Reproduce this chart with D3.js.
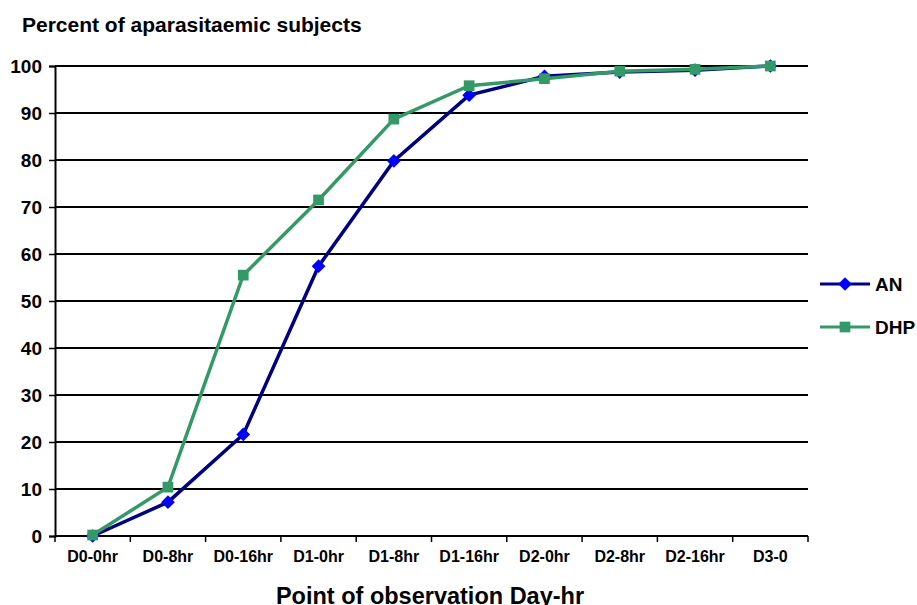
<!DOCTYPE html>
<html>
<head>
<meta charset="utf-8">
<script src="https://cdn.jsdelivr.net/npm/d3@7"></script>
<style>
  body { margin: 0; background: #fff; }
  svg { font-family: "Liberation Sans", Arial, sans-serif; font-weight: bold; }
</style>
</head>
<body>
<div id="chart"></div>
<script>
'use strict';

var categories = ['D0-0hr', 'D0-8hr', 'D0-16hr', 'D1-0hr', 'D1-8hr', 'D1-16hr', 'D2-0hr', 'D2-8hr', 'D2-16hr', 'D3-0'];
var anValues = [0, 7.2, 21.6, 57.4, 79.8, 93.8, 97.8, 98.7, 99.1, 100];
var dhpValues = [0.2, 10.4, 55.5, 71.5, 88.7, 95.8, 97.3, 98.9, 99.3, 100];
var yTicks = [0, 10, 20, 30, 40, 50, 60, 70, 80, 90, 100];

var series = [
  {key: 'AN', values: anValues, line: '#000080', marker: '#0000ff', shape: 'diamond'},
  {key: 'DHP', values: dhpValues, line: '#339966', marker: '#339966', shape: 'square'}
];

var width = 917, height = 605;
var margin = {top: 66, right: 109, bottom: 69, left: 55};
var w = width - margin.left - margin.right;
var h = height - margin.top - margin.bottom;

var svg = d3.select('#chart').append('svg')
  .attr('width', width)
  .attr('height', height);

var g = svg.append('g')
  .attr('transform', 'translate(' + margin.left + ',' + margin.top + ')');

var x = d3.scaleBand().domain(categories).range([0, w]);
var y = d3.scaleLinear().domain([0, 100]).range([h, 0]);

// gridlines
g.append('g')
  .selectAll('line')
  .data(yTicks)
  .enter().append('line')
  .attr('x1', 0).attr('x2', w)
  .attr('y1', function(d) { return y(d); })
  .attr('y2', function(d) { return y(d); })
  .attr('stroke', '#000')
  .attr('stroke-width', 2);

// y axis
var yAxis = g.append('g')
  .call(d3.axisLeft(y).tickValues(yTicks).tickSize(6).tickPadding(7));
yAxis.select('.domain').attr('stroke', '#000').attr('stroke-width', 2);
yAxis.selectAll('.tick line').attr('stroke', '#000').attr('stroke-width', 1.5);
yAxis.selectAll('.tick text')
  .attr('font-size', 19)
  .attr('font-weight', 'bold')
  .attr('font-family', '"Liberation Sans", Arial, sans-serif')
  .attr('fill', '#000');

// x axis with ticks at band edges
var xAxis = g.append('g')
  .attr('transform', 'translate(0,' + h + ')');
xAxis.append('line')
  .attr('x1', 0).attr('x2', w)
  .attr('stroke', '#000').attr('stroke-width', 2);
var edges = d3.range(categories.length + 1).map(function(i) { return i * x.step(); });
xAxis.selectAll('line.edge')
  .data(edges)
  .enter().append('line')
  .attr('class', 'edge')
  .attr('x1', function(d) { return d; })
  .attr('x2', function(d) { return d; })
  .attr('y1', 0).attr('y2', 6)
  .attr('stroke', '#000').attr('stroke-width', 1.5);
xAxis.selectAll('text')
  .data(categories)
  .enter().append('text')
  .attr('x', function(d) { return x(d) + x.bandwidth() / 2; })
  .attr('y', 26)
  .attr('text-anchor', 'middle')
  .attr('font-size', 16)
  .text(function(d) { return d; });

// lines
var line = d3.line()
  .x(function(d, i) { return x(categories[i]) + x.bandwidth() / 2; })
  .y(function(d) { return y(d); });

var diamond = d3.symbol().type(d3.symbolDiamond2).size(120);
var square = d3.symbol().type(d3.symbolSquare).size(115);

series.forEach(function(s) {
  var sg = g.append('g');
  sg.append('path')
    .datum(s.values)
    .attr('fill', 'none')
    .attr('stroke', s.line)
    .attr('stroke-width', 3.5)
    .attr('d', line);
  sg.selectAll('path.pt')
    .data(s.values)
    .enter().append('path')
    .attr('class', 'pt')
    .attr('transform', function(d, i) {
      return 'translate(' + (x(categories[i]) + x.bandwidth() / 2) + ',' + y(d) + ')';
    })
    .attr('fill', s.marker)
    .attr('d', s.shape === 'diamond' ? diamond() : square());
});

// legend
var legend = svg.append('g').attr('transform', 'translate(820,284)');
series.forEach(function(s, i) {
  var lg = legend.append('g').attr('transform', 'translate(0,' + (i * 43) + ')');
  lg.append('line')
    .attr('x1', 0).attr('x2', 50)
    .attr('stroke', s.line).attr('stroke-width', 3);
  lg.append('path')
    .attr('transform', 'translate(25,0)')
    .attr('fill', s.marker)
    .attr('d', s.shape === 'diamond' ? diamond() : square());
  lg.append('text')
    .attr('x', 55).attr('y', 7)
    .attr('font-size', 19)
    .text(s.key);
});

// titles
svg.append('text')
  .attr('x', 22).attr('y', 32)
  .attr('font-size', 21)
  .text('Percent of aparasitaemic subjects');

svg.append('text')
  .attr('x', 430).attr('y', 604)
  .attr('text-anchor', 'middle')
  .attr('font-size', 23.5)
  .text('Point of observation Day-hr');
</script>
</body>
</html>
